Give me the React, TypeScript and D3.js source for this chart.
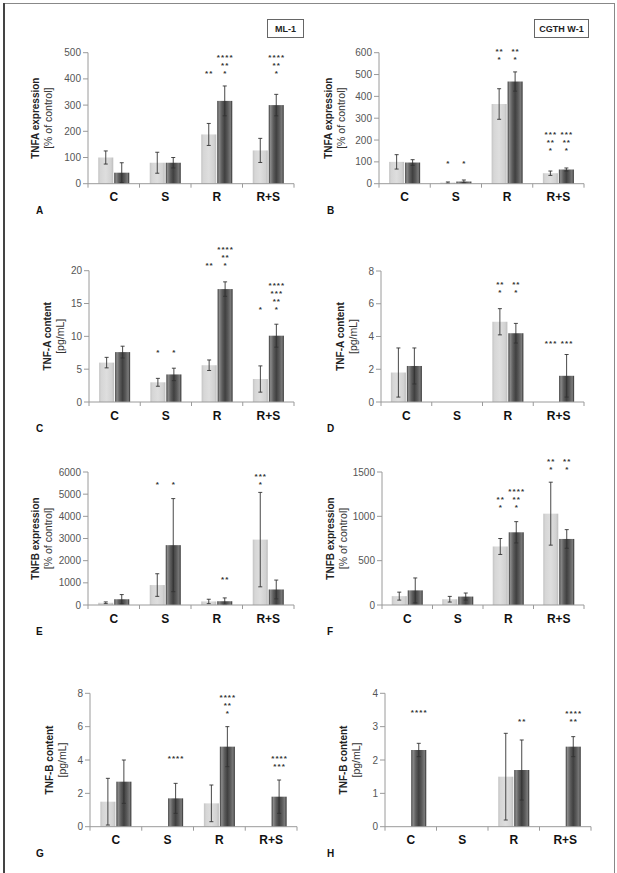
import React from 'react';
import * as d3 from 'd3';

const categories = ['C', 'S', 'R', 'R+S'];
const seriesKeys = ['light', 'dark'];

// Panel A – TNFA expression, ML-1
const aLight = [100, 80, 188, 127];
const aLightErr = [25, 40, 42, 46];
const aDark = [42, 80, 316, 300];
const aDarkErr = [38, 20, 57, 41];

// Panel B – TNFA expression, CGTH W-1
const bLight = [100, 5, 365, 48];
const bLightErr = [33, 3, 70, 10];
const bDark = [97, 10, 468, 65];
const bDarkErr = [13, 7, 44, 7];

// Panel C – TNF-A content, ML-1
const cLight = [6.0, 3.0, 5.6, 3.5];
const cLightErr = [0.8, 0.6, 0.8, 2.0];
const cDark = [7.6, 4.2, 17.2, 10.1];
const cDarkErr = [0.9, 0.95, 1.1, 1.75];

// Panel D – TNF-A content, CGTH W-1
const dLight = [1.8, null, 4.9, null];
const dLightErr = [1.5, null, 0.8, null];
const dDark = [2.2, null, 4.2, 1.6];
const dDarkErr = [1.1, null, 0.6, 1.3];

// Panel E – TNFB expression, ML-1
const eLight = [100, 900, 160, 2950];
const eLightErr = [40, 510, 100, 2130];
const eDark = [260, 2700, 170, 700];
const eDarkErr = [210, 2100, 150, 425];

// Panel F – TNFB expression, CGTH W-1
const fLight = [100, 65, 660, 1030];
const fLightErr = [45, 32, 90, 355];
const fDark = [165, 95, 820, 745];
const fDarkErr = [140, 40, 120, 105];

// Panel G – TNF-B content, ML-1
const gLight = [1.5, null, 1.4, null];
const gLightErr = [1.4, null, 1.1, null];
const gDark = [2.7, 1.7, 4.8, 1.8];
const gDarkErr = [1.3, 0.9, 1.2, 1.0];

// Panel H – TNF-B content, CGTH W-1
const hLight = [null, null, 1.5, null];
const hLightErr = [null, null, 1.3, null];
const hDark = [2.3, null, 1.7, 2.4];
const hDarkErr = [0.2, null, 0.9, 0.3];

type Star = { cat: string; series: number; lines: string[]; at: number };

const starsA: Star[] = [
  { cat: 'R', series: 0, lines: ['**'], at: 430 },
  { cat: 'R', series: 1, lines: ['****', '**', '*'], at: 430 },
  { cat: 'R+S', series: 1, lines: ['****', '**', '*'], at: 430 },
];
const starsB: Star[] = [
  { cat: 'S', series: 0, lines: ['*'], at: 101 },
  { cat: 'S', series: 1, lines: ['*'], at: 101 },
  { cat: 'R', series: 0, lines: ['**', '*'], at: 577 },
  { cat: 'R', series: 1, lines: ['**', '*'], at: 577 },
  { cat: 'R+S', series: 0, lines: ['***', '**', '*'], at: 163 },
  { cat: 'R+S', series: 1, lines: ['***', '**', '*'], at: 163 },
];
const starsC: Star[] = [
  { cat: 'S', series: 0, lines: ['*'], at: 7.8 },
  { cat: 'S', series: 1, lines: ['*'], at: 7.8 },
  { cat: 'R', series: 0, lines: ['**'], at: 21.1 },
  { cat: 'R', series: 1, lines: ['****', '**', '*'], at: 21.1 },
  { cat: 'R+S', series: 0, lines: ['*'], at: 14.4 },
  { cat: 'R+S', series: 1, lines: ['****', '***', '**', '*'], at: 14.4 },
];
const starsD: Star[] = [
  { cat: 'R', series: 0, lines: ['**', '*'], at: 6.78 },
  { cat: 'R', series: 1, lines: ['**', '*'], at: 6.78 },
  { cat: 'R+S', series: 0, lines: ['***'], at: 3.68 },
  { cat: 'R+S', series: 1, lines: ['***'], at: 3.68 },
];
const starsE: Star[] = [
  { cat: 'S', series: 0, lines: ['*'], at: 5535 },
  { cat: 'S', series: 1, lines: ['*'], at: 5535 },
  { cat: 'R', series: 1, lines: ['**'], at: 1233 },
  { cat: 'R+S', series: 0, lines: ['***', '*'], at: 5535 },
];
const starsF: Star[] = [
  { cat: 'R', series: 0, lines: ['**', '*'], at: 1127 },
  { cat: 'R', series: 1, lines: ['****', '**', '*'], at: 1127 },
  { cat: 'R+S', series: 0, lines: ['**', '*'], at: 1556 },
  { cat: 'R+S', series: 1, lines: ['**', '*'], at: 1556 },
];
const starsG: Star[] = [
  { cat: 'S', series: 1, lines: ['****'], at: 4.2 },
  { cat: 'R', series: 1, lines: ['****', '**', '*'], at: 6.88 },
  { cat: 'R+S', series: 1, lines: ['****', '***'], at: 3.72 },
];
const starsH: Star[] = [
  { cat: 'C', series: 1, lines: ['****'], at: 3.47 },
  { cat: 'R', series: 1, lines: ['**'], at: 3.22 },
  { cat: 'R+S', series: 1, lines: ['****', '**'], at: 3.22 },
];

const titleExpA = ['TNFA expression', '[% of control]'];
const titleContA = ['TNF-A content', '[pg/mL]'];
const titleExpB = ['TNFB expression', '[% of control]'];
const titleContB = ['TNF-B content', '[pg/mL]'];

const panels = [
  { id: 'A', title: titleExpA, max: 500, step: 100, light: aLight, lightErr: aLightErr, dark: aDark, darkErr: aDarkErr, stars: starsA,
    layout: { x0: 88, x1: 294, yTop: 52.7, y0: 183.7, tx: 35, lx: 36 } },
  { id: 'B', title: titleExpA, max: 600, step: 100, light: bLight, lightErr: bLightErr, dark: bDark, darkErr: bDarkErr, stars: starsB,
    layout: { x0: 379, x1: 584, yTop: 52.7, y0: 183.7, tx: 328, lx: 327 } },
  { id: 'C', title: titleContA, max: 20, step: 5, light: cLight, lightErr: cLightErr, dark: cDark, darkErr: cDarkErr, stars: starsC,
    layout: { x0: 89, x1: 294, yTop: 270.7, y0: 402, tx: 47, lx: 36 } },
  { id: 'D', title: titleContA, max: 8, step: 2, light: dLight, lightErr: dLightErr, dark: dDark, darkErr: dDarkErr, stars: starsD,
    layout: { x0: 381, x1: 584, yTop: 271, y0: 402, tx: 340, lx: 327 } },
  { id: 'E', title: titleExpB, max: 6000, step: 1000, light: eLight, lightErr: eLightErr, dark: eDark, darkErr: eDarkErr, stars: starsE,
    layout: { x0: 88, x1: 294, yTop: 472, y0: 605, tx: 35, lx: 36 } },
  { id: 'F', title: titleExpB, max: 1500, step: 500, light: fLight, lightErr: fLightErr, dark: fDark, darkErr: fDarkErr, stars: starsF,
    layout: { x0: 382, x1: 584, yTop: 472, y0: 605, tx: 330, lx: 327 } },
  { id: 'G', title: titleContB, max: 8, step: 2, light: gLight, lightErr: gLightErr, dark: gDark, darkErr: gDarkErr, stars: starsG,
    layout: { x0: 90, x1: 297, yTop: 693.3, y0: 826.7, tx: 49, lx: 36 } },
  { id: 'H', title: titleContB, max: 4, step: 1, light: hLight, lightErr: hLightErr, dark: hDark, darkErr: hDarkErr, stars: starsH,
    layout: { x0: 385, x1: 591, yTop: 693.3, y0: 826.7, tx: 343, lx: 327 } },
];

const FONT = '"Liberation Sans", Arial, Helvetica, sans-serif';
const AXIS = '#9a9a9a';

function Panel({ p }: { p: any }) {
  const { x0, x1, yTop, y0, tx, lx } = p.layout;
  const y = d3.scaleLinear().domain([0, p.max]).range([y0, yTop]);
  const xb = d3.scaleBand<string>().domain(categories).range([x0, x1]);
  const bw = xb.bandwidth();
  const inner = d3
    .scaleBand<string>()
    .domain(seriesKeys)
    .range([bw / 2 - 15.5, bw / 2 + 15.5])
    .paddingInner(0.06);
  const ticks = d3.range(0, p.max + p.step / 2, p.step);
  const series = [
    { key: 'light', vals: p.light, errs: p.lightErr, fill: 'url(#gradLight)' },
    { key: 'dark', vals: p.dark, errs: p.darkErr, fill: 'url(#gradDark)' },
  ];
  const cy = (y0 + yTop) / 2;
  const boundaries = d3.range(0, categories.length + 1).map((i) => x0 + i * bw);

  return (
    <g>
      {/* bars */}
      {series.map((s) =>
        categories.map((c, i) => {
          const v = s.vals[i];
          if (v == null) return null;
          const x = (xb(c) as number) + (inner(s.key) as number);
          return (
            <rect key={s.key + c} x={x} y={y(v)} width={inner.bandwidth()} height={y0 - y(v)} fill={s.fill} />
          );
        })
      )}
      {/* error bars */}
      {series.map((s) =>
        categories.map((c, i) => {
          const v = s.vals[i];
          const e = s.errs[i];
          if (v == null || e == null) return null;
          const cx = (xb(c) as number) + (inner(s.key) as number) + inner.bandwidth() / 2;
          const lo = y(Math.max(0, v - e));
          const hi = y(v + e);
          return (
            <g key={'e' + s.key + c} stroke="#333" strokeWidth={0.9}>
              <line x1={cx} x2={cx} y1={lo} y2={hi} />
              <line x1={cx - 2} x2={cx + 2} y1={lo} y2={lo} />
              <line x1={cx - 2} x2={cx + 2} y1={hi} y2={hi} />
            </g>
          );
        })
      )}
      {/* y axis */}
      <line x1={x0} x2={x0} y1={y0} y2={yTop} stroke={AXIS} strokeWidth={1} />
      {ticks.map((t: number) => (
        <g key={'t' + t}>
          <line x1={x0 - 5} x2={x0} y1={y(t)} y2={y(t)} stroke={AXIS} strokeWidth={1} />
          <text x={x0 - 7} y={y(t)} dy="0.35em" textAnchor="end" fontSize={10} fill="#555" fontFamily={FONT}>
            {t}
          </text>
        </g>
      ))}
      {/* x axis */}
      <line x1={x0} x2={x1} y1={y0} y2={y0} stroke={AXIS} strokeWidth={1} />
      {boundaries.map((bx: number, i: number) => (
        <line key={'b' + i} x1={bx} x2={bx} y1={y0} y2={y0 + 4} stroke={AXIS} strokeWidth={1} />
      ))}
      {categories.map((c) => (
        <text key={'c' + c} x={(xb(c) as number) + bw / 2} y={y0 + 17.5} textAnchor="middle" fontSize={12} fontWeight="bold" fill="#111" fontFamily={FONT}>
          {c}
        </text>
      ))}
      {/* y title */}
      <text transform={`translate(${tx},${cy}) rotate(-90)`} textAnchor="middle" dy="0.35em" fontSize={10} fontWeight="bold" fill="#222" fontFamily={FONT}>
        {p.title[0]}
      </text>
      <text transform={`translate(${tx + 13},${cy}) rotate(-90)`} textAnchor="middle" dy="0.35em" fontSize={10.5} fill="#333" fontFamily={FONT}>
        {p.title[1]}
      </text>
      {/* significance stars */}
      {p.stars.map((st: Star, k: number) => {
        const cx = (xb(st.cat) as number) + (inner(seriesKeys[st.series]) as number) + inner.bandwidth() / 2;
        const n = st.lines.length;
        return st.lines.map((ln: string, i: number) => (
          <text
            key={'s' + k + '-' + i}
            x={cx + 0.5}
            y={y(st.at) - (n - 1 - i) * 8 + 4.5}
            textAnchor="middle"
            fontSize={8}
            fontWeight="bold"
            letterSpacing={1.1}
            fill="#333"
            fontFamily={FONT}
          >
            {ln}
          </text>
        ));
      })}
      {/* panel letter */}
      <text x={lx} y={y0 + 30} fontSize={10} fontWeight="bold" fill="#111" fontFamily={FONT}>
        {p.id}
      </text>
    </g>
  );
}

export default function App() {
  return (
    <svg width={617} height={873} style={{ position: 'absolute', left: 0, top: 0, background: '#fff' }}>
      <defs>
        <linearGradient id="gradLight" x1="0" x2="1" y1="0" y2="0">
          <stop offset="0" stopColor="#c4c4c4" />
          <stop offset="0.15" stopColor="#d6d6d6" />
          <stop offset="0.5" stopColor="#dedede" />
          <stop offset="0.85" stopColor="#d2d2d2" />
          <stop offset="1" stopColor="#bdbdbd" />
        </linearGradient>
        <linearGradient id="gradDark" x1="0" x2="1" y1="0" y2="0">
          <stop offset="0" stopColor="#3a3a3a" />
          <stop offset="0.12" stopColor="#8a8a8a" />
          <stop offset="0.3" stopColor="#5e5e5e" />
          <stop offset="0.5" stopColor="#404040" />
          <stop offset="0.7" stopColor="#5a5a5a" />
          <stop offset="0.88" stopColor="#7a7a7a" />
          <stop offset="1" stopColor="#2e2e2e" />
        </linearGradient>
      </defs>
      {/* frame */}
      <line x1={3} x2={614.5} y1={3.5} y2={3.5} stroke="#888" strokeWidth={1} />
      <line x1={4} x2={4} y1={3} y2={873} stroke="#444" strokeWidth={2} />
      <line x1={614.5} x2={614.5} y1={3} y2={873} stroke="#888" strokeWidth={1} />
      {/* cell-line boxes */}
      <rect x={267.5} y={19.5} width={36} height={18} fill="#fff" stroke="#666" strokeWidth={1} />
      <text x={285.5} y={28.5} dy="0.35em" textAnchor="middle" fontSize={9} fontWeight="bold" fill="#222" fontFamily={FONT}>
        ML-1
      </text>
      <rect x={534.5} y={19.5} width={54} height={18} fill="#fff" stroke="#666" strokeWidth={1} />
      <text x={561.5} y={28.5} dy="0.35em" textAnchor="middle" fontSize={9} fontWeight="bold" fill="#222" fontFamily={FONT}>
        CGTH W-1
      </text>
      {panels.map((p) => (
        <Panel key={p.id} p={p} />
      ))}
    </svg>
  );
}
